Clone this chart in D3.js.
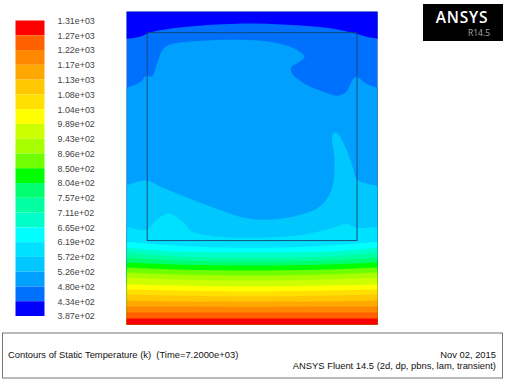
<!DOCTYPE html>
<html>
<head>
<meta charset="utf-8">
<script src="https://cdn.jsdelivr.net/npm/d3@7"></script>
<style>
html, body { margin: 0; padding: 0; background: #fff; }
svg { display: block; }
text { font-family: "Liberation Sans", sans-serif; }
.tick text { fill: #444; font-size: 8.9px; }
.foot { font-size: 9.4px; fill: #111; }
</style>
</head>
<body>
<div class="chart"></div>
<script>
// legend, top to bottom
var levelLabels = ['1.31e+03','1.27e+03','1.22e+03','1.17e+03','1.13e+03','1.08e+03','1.04e+03',
  '9.89e+02','9.43e+02','8.96e+02','8.50e+02','8.04e+02','7.57e+02','7.11e+02','6.65e+02',
  '6.19e+02','5.72e+02','5.26e+02','4.80e+02','4.34e+02','3.87e+02'];
var bandColors = ['#ff0000','#ff6000','#ff8800','#ffa800','#ffc800','#ffe000','#ffff00',
  '#ccff00','#a8ff00','#70ff00','#00ff00','#00ff70','#00ffa0','#00ffc8','#00ffff',
  '#00e0ff','#00c8ff','#00a0ff','#0070ff','#0000ff'];

// contour lines: [x, depth below the top wall]
var topContour = [[0,27],[13,25],[26,20],[60,15],[110,12],[160,13],[200,16],[226,21],[240,25],[251,27]];
var contour00a0 = [[0,76],[13,71],[20,64],[25,65],[30,53],[36,38],[43,33],[76,29],[110,28],[143,30],
  [166,36],[178,45],[173,50],[165,55],[165,61],[180,73],[200,81],[210,84],[220,80],[226,68],[230,65],[240,72],[251,76]];
var contour00c8 = [[0,174],[20,169],[36,176],[66,188],[93,198],[113,205],[136,208],[166,205],[193,195],
  [205,178],[208,148],[206,123],[210,121],[220,138],[226,155],[231,168],[251,174]];
var contour00e0 = [[0,215],[20,218],[30,208],[43,202],[56,210],[66,220],[93,225],[126,226],[176,223],
  [210,215],[220,212],[230,216],[251,215]];

// the flat bands over the hot wall, top edge of each band at these x
var bandX = [0,50,125,200,251];
var bandColorsLow = ['#00ffff','#00ffc8','#00ffa0','#00ff70','#00ff00','#70ff00','#a8ff00','#ccff00',
  '#ffff00','#ffe000','#ffc800','#ffa800','#ff8800','#ff6000','#ff0000'];
var bandDepths = [
  [230,234,236,234,230],
  [236,240,241,240,236],
  [241,245,246,245,241],
  [246,249,250,249,246],
  [251,253,254,253,251],
  [256,258,259,258,256],
  [261,263,264,263,261],
  [266,268,269,268,266],
  [273,274,275,274,273],
  [278,279,280,279,278],
  [283,284,285,284,283],
  [289,290,290,290,289],
  [295,295,295.5,295,295],
  [301,301,301,301,301],
  [307,307,307,307,307]
];

var box = [0,251];
var boxDepth = [0,313];
var innerX = [20.5,230.5];
var innerDepth = [21,229];

var svg = d3.select('.chart').append('svg')
  .attr('width',505)
  .attr('height',380);

var x = d3.scaleLinear().domain(box).range([126.7,377.5]);
var y = d3.scaleLinear().domain(boxDepth).range([11.7,324.6]);

var line = d3.line()
  .x(function(d){return x(d[0])})
  .y(function(d){return y(d[1])})
  .curve(d3.curveCatmullRom.alpha(0.5));

// region below a contour line, down to the bottom wall
function below(pts){
  return line(pts) + 'L' + x(box[1]) + ',' + y(boxDepth[1]) + 'L' + x(box[0]) + ',' + y(boxDepth[1]) + 'Z';
}
function above(pts){
  return line(pts) + 'L' + x(box[1]) + ',' + y(boxDepth[0]) + 'L' + x(box[0]) + ',' + y(boxDepth[0]) + 'Z';
}

var plot = svg.append('g');

plot.append('rect')
  .attr('x',x(box[0])).attr('y',y(boxDepth[0]))
  .attr('width',x(box[1])-x(box[0])).attr('height',y(boxDepth[1])-y(boxDepth[0]))
  .attr('fill','#0070ff');

plot.append('path').attr('d',above(topContour)).attr('fill','#0000ff');
plot.append('path').attr('d',below(contour00a0)).attr('fill','#00a0ff');
plot.append('path').attr('d',below(contour00c8)).attr('fill','#00c8ff');
plot.append('path').attr('d',below(contour00e0)).attr('fill','#00e0ff');

plot.selectAll('.band')
  .data(bandDepths)
  .enter()
  .append('path')
  .attr('class','band')
  .attr('fill',function(d,i){return bandColorsLow[i]})
  .attr('d',function(d){
    return below(d.map(function(v,i){return [bandX[i],v]}));
  });

// outer edge is faint in the picture
plot.append('rect')
  .attr('x',x(box[0])).attr('y',y(boxDepth[0]))
  .attr('width',x(box[1])-x(box[0])).attr('height',y(boxDepth[1])-y(boxDepth[0]))
  .attr('fill','none')
  .attr('stroke','#000')
  .attr('stroke-opacity',.25)
  .attr('stroke-width',.8);

// inner cavity
plot.append('rect')
  .attr('x',x(innerX[0])).attr('y',y(innerDepth[0]))
  .attr('width',x(innerX[1])-x(innerX[0])).attr('height',y(innerDepth[1])-y(innerDepth[0]))
  .attr('fill','none')
  .attr('stroke','#12466c')
  .attr('stroke-width',.9);

// color scale
var legendY = d3.scalePoint().domain(levelLabels).range([20.5,316]);
var legendX = 15.5, legendW = 29;

svg.selectAll('.swatch')
  .data(bandColors)
  .enter()
  .append('rect')
  .attr('class','swatch')
  .attr('x',legendX)
  .attr('width',legendW)
  .attr('y',function(d,i){return legendY(levelLabels[i])})
  .attr('height',legendY.step())
  .attr('fill',function(d){return d});

var legendAxis = d3.axisRight(legendY).tickSize(0).tickPadding(13);

svg.append('g')
  .attr('transform','translate(' + (legendX+legendW) + ',0)')
  .call(legendAxis)
  .call(function(g){g.select('.domain').remove()});

// logo
svg.append('rect')
  .attr('x',423).attr('y',4)
  .attr('width',80).attr('height',37)
  .attr('fill','#000');
svg.append('text')
  .attr('x',462).attr('y',23)
  .attr('text-anchor','middle')
  .attr('fill','#fff')
  .style('font-family','"Open Sans", sans-serif')
  .style('font-weight','600')
  .style('font-size','15.5px')
  .style('letter-spacing','0.8px')
  .text('ANSYS');
svg.append('text')
  .attr('x',490).attr('y',36)
  .attr('text-anchor','end')
  .attr('fill','#aaa')
  .style('font-family','"Open Sans", sans-serif')
  .style('font-size','8.5px')
  .text('R14.5');

// title box
svg.append('rect')
  .attr('x',2.5).attr('y',333)
  .attr('width',500).attr('height',45)
  .attr('fill','#fff')
  .attr('stroke','#777');

svg.append('text').attr('class','foot')
  .attr('x',8).attr('y',358)
  .text('Contours of Static Temperature (k)  (Time=7.2000e+03)')
  .style('white-space','pre');
svg.append('text').attr('class','foot')
  .attr('x',496).attr('y',358)
  .attr('text-anchor','end')
  .text('Nov 02, 2015');
svg.append('text').attr('class','foot')
  .attr('x',496).attr('y',369)
  .attr('text-anchor','end')
  .text('ANSYS Fluent 14.5 (2d, dp, pbns, lam, transient)');
</script>
</body>
</html>
